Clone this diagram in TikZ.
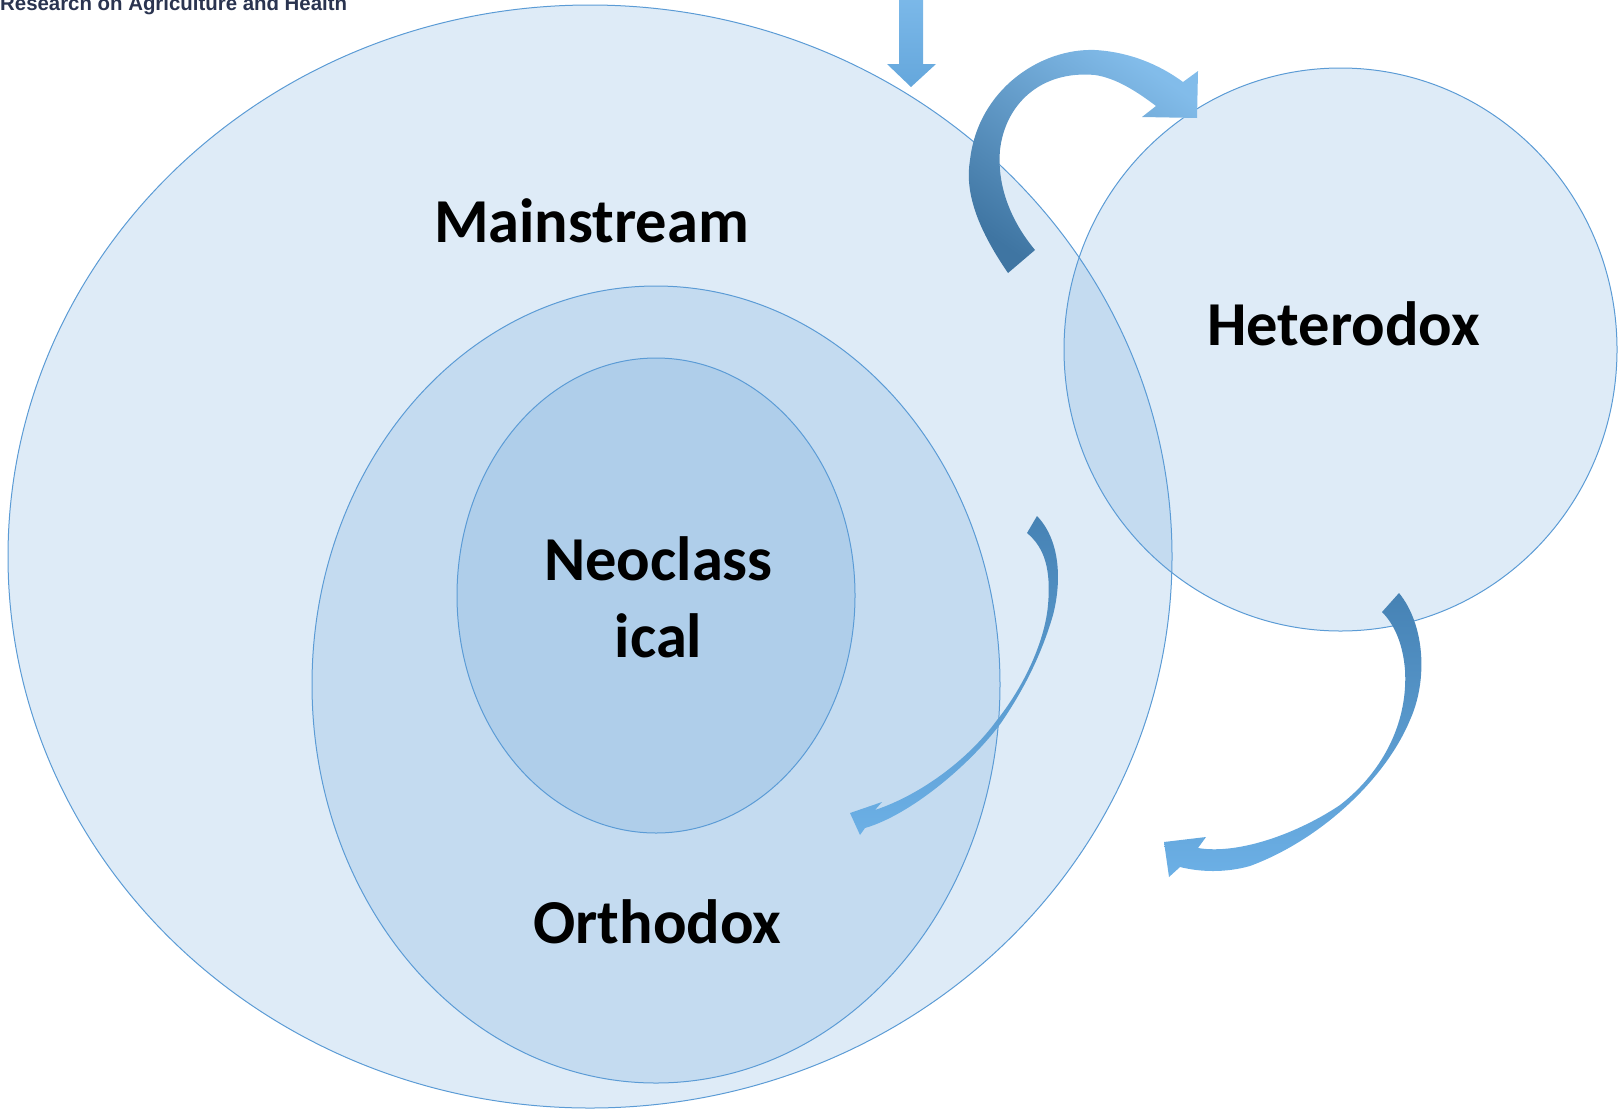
\documentclass[tikz,border=0pt]{standalone}
\usepackage{fontspec}
\setmainfont{Carlito}
\newfontfamily\headfont{Liberation Sans}
\usepackage{tikz}
\usetikzlibrary{calc}
\definecolor{ringblue}{HTML}{5B9BD5}
\definecolor{arrowdark}{HTML}{4682B4}
\definecolor{arrowlight}{HTML}{6CB0E6}
\definecolor{headgray}{HTML}{2A3450}

\begin{document}
\begin{tikzpicture}[x=1pt,y=-1pt]
\tikzstyle{ring}=[draw=ringblue,line width=1pt,fill=ringblue,fill opacity=0.2]
\tikzstyle{label}=[font=\fontsize{62.5}{77}\selectfont\bfseries,text=black,anchor=base,inner sep=0pt]
\tikzstyle{blockarrow}=[draw=none]
\useasboundingbox (0,0) rectangle (1624,1109);
\clip (0,0) rectangle (1624,1109);
% header of the page, cut at the top
\node (header) [anchor=base west,inner sep=0pt,text=headgray,
  font=\headfont\bfseries\fontsize{20.4}{24}\selectfont] at (0,10)
  {Research on Agriculture and Health};
% the rings
\draw[ring] (590,556.5) ellipse [x radius=582,y radius=551.5];
\draw[ring] (656,684.5) ellipse [x radius=344,y radius=398.5];
\draw[ring] (656,595.5) ellipse [x radius=199,y radius=237.5];
\draw[ring] (1340.5,349.5) ellipse [x radius=276.5,y radius=281.5];
\node (mainstream) [label] at (591.5,242) {Mainstream};
\node (heterodox) [label] at (1343.5,345) {Heterodox};
\node (neoclass) [label] at (658.5,580) {Neoclass};
\node (ical) [label] at (658.5,657) {ical};
\node (orthodox) [label] at (657.5,943) {Orthodox};
% straight arrow from the top
\shade[blockarrow,top color=arrowlight!90!white,bottom color=arrowlight!80!arrowdark]
  (899,0) -- (923,0) -- (923,64) -- (936,64) -- (911,87) -- (887,64) -- (899,64) -- cycle;
% curved arrow over to heterodox
\shade[blockarrow,top color=arrowlight!85!white,bottom color=arrowdark!90!black,shading angle=-35]
  (1008,273) .. controls (975,225) and (965,190) .. (970,160)
  .. controls (978,90) and (1040,48) .. (1095,50)
  .. controls (1130,52) and (1160,65) .. (1183,82)
  -- (1198,71) -- (1197,118) -- (1142,117) -- (1156,106)
  .. controls (1135,90) and (1115,78) .. (1095,75)
  .. controls (1040,70) and (1005,105) .. (1000,150)
  .. controls (997,185) and (1010,220) .. (1035,250) -- cycle;
% curved arrow inside mainstream
\shade[blockarrow,top color=arrowdark,bottom color=arrowlight]
  (1037,516) .. controls (1060,540) and (1062,580) .. (1053,615)
  .. controls (1040,660) and (1020,695) .. (1001,723)
  .. controls (970,765) and (910,815) .. (865,828)
  -- (860,835) -- (850,813) -- (882,802) -- (875,810)
  .. controls (920,795) and (968,760) .. (997,720)
  .. controls (1025,685) and (1045,640) .. (1048,605)
  .. controls (1051,570) and (1045,548) .. (1027,533) -- cycle;
% curved arrow out of heterodox
\shade[blockarrow,top color=arrowdark,bottom color=arrowlight]
  (1399,593) .. controls (1425,625) and (1428,680) .. (1410,720)
  .. controls (1385,780) and (1320,840) .. (1250,866)
  .. controls (1225,873) and (1200,872) .. (1180,867)
  -- (1169,877) -- (1164,842) -- (1206,837) -- (1198,848)
  .. controls (1240,855) and (1300,832) .. (1340,805)
  .. controls (1385,770) and (1408,720) .. (1405,670)
  .. controls (1403,645) and (1395,625) .. (1382,612) -- cycle;
\end{tikzpicture}
\end{document}
